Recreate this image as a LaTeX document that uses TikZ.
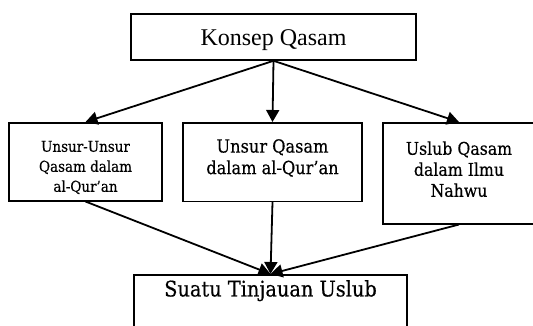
\documentclass[tikz,border=0pt]{standalone}
\usepackage{fontspec}
\setmainfont{Liberation Serif}
\newfontfamily\boxfont[FakeBold=0.4]{DejaVu Serif Condensed}
\usepackage{xcolor}
\usetikzlibrary{positioning,arrows.meta}

\begin{document}
\begin{tikzpicture}[x=1pt, y=-1pt, line width=1.5pt,
    >={Triangle[length=12pt,width=13pt]},
    konsepbox/.style={draw, rectangle, align=center, inner sep=4pt, anchor=north}]
    \useasboundingbox (0,0) rectangle (533,325);

    % Rectangle 1
    \node [konsepbox, minimum width=285pt, text height=27.7pt, text depth=10.3pt,
      font=\fontsize{24}{26}\selectfont] (konsep) at (273.5,13.3) {Konsep Qasam};

    % Rectangles 2, 3 and 4
    \node [konsepbox, minimum width=153pt, text height=65pt, text depth=5pt,
      font=\boxfont\fontsize{15}{20}\selectfont] (unsur) at (85.5,122) {Unsur-Unsur\\
    Qasam dalam\\ al-Qur’an};

    \node [konsepbox, minimum width=179pt, text height=47.3pt, text depth=23.4pt,
      font=\boxfont\fontsize{18}{21.5}\selectfont] (qasam) at (272.5,122) {Unsur Qasam\\
    dalam al-Qur’an};

    \node [konsepbox, minimum width=152pt, text height=70pt, text depth=23pt,
      font=\boxfont\fontsize{17.5}{21}\selectfont] (nahwu) at (459,122) {Uslub Qasam\\
    dalam Ilmu\\ Nahwu};

    % Rectangle 5
    \node [konsepbox, minimum width=273pt, text height=17.7pt, text depth=40pt,
      font=\boxfont\fontsize{21.5}{24}\selectfont] (tinjau) at (270.5,274) {Suatu Tinjauan Uslub};

    % Arrows
    \draw[->, line width=1.8pt] (konsep.south) -- (unsur.north);
    \draw[->, line width=1.8pt] (konsep.south) -- (qasam.north);
    \draw[->, line width=1.8pt] (konsep.south) -- (nahwu.north);
    \draw[->, line width=1.8pt] (unsur.south) -- (tinjau.north);
    \draw[->, line width=1.8pt] (qasam.south) -- (tinjau.north);
    \draw[->, line width=1.8pt] (nahwu.south) -- (tinjau.north);
\end{tikzpicture}
\end{document}
